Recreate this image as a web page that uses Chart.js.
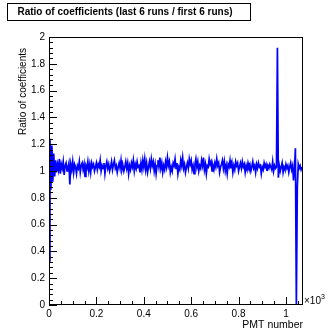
<!DOCTYPE html>
<html>
<head>
<meta charset="utf-8">
<script src="https://cdn.jsdelivr.net/npm/chart.js@4/dist/chart.umd.min.js"></script>
<style>
  html, body { margin: 0; padding: 0; background: #fff; }
  #wrap { width: 328px; height: 331px; position: relative; }
</style>
</head>
<body>
<div id="wrap"><canvas id="c" width="328" height="331"></canvas></div>
<script>
/* ── Data (bin width 4 PMTs) ───────────────────────────────── */
const BIN_WIDTH = 4;
const ratios = [
  0.33, 1.24, 0.86, 1.19, 0.92, 1.13, 0.96, 1.08, 0.99, 1.05,
  1.01, 1.09, 0.98, 1.05, 1.02, 1.07, 0.97, 1.04, 1.06, 1.00,
  1.03, 1.06, 0.90, 1.05, 1.01, 1.07, 0.99, 1.05, 1.03, 0.98,
  1.04, 1.02, 1.07, 0.99, 1.04, 1.06, 1.01, 1.05, 0.96, 1.04,
  1.02, 1.07, 1.00, 1.05, 0.99, 1.06, 1.03, 1.05, 1.00, 1.03,
  1.06, 1.01, 1.05, 1.03, 1.08, 1.00, 1.04, 1.02, 1.06, 0.98,
  1.04, 1.07, 1.02, 1.05, 1.00, 1.03, 1.07, 1.01, 1.05, 1.08,
  1.02, 1.04, 0.99, 1.03, 1.06, 1.02, 1.08, 1.01, 1.04, 1.00,
  1.03, 1.07, 1.02, 1.06, 0.98, 1.04, 1.01, 1.06, 1.03, 1.08,
  1.00, 1.05, 1.02, 1.07, 1.03, 1.04, 0.99, 1.06, 1.01, 1.08,
  1.03, 1.09, 1.01, 1.06, 0.99, 1.03, 1.07, 1.02, 1.09, 1.04,
  1.07, 1.00, 1.05, 0.98, 1.04, 1.08, 1.03, 1.10, 1.02, 1.06,
  0.99, 1.04, 1.01, 1.07, 1.03, 1.10, 1.04, 1.07, 0.99, 1.03,
  1.00, 1.06, 1.04, 1.09, 1.02, 1.06, 0.98, 1.03, 1.01, 1.08,
  1.04, 1.10, 1.02, 1.05, 0.99, 1.03, 1.06, 1.02, 1.09, 1.05,
  1.08, 1.01, 1.04, 0.98, 1.05, 1.09, 1.03, 1.07, 1.00, 1.04,
  1.02, 1.08, 1.04, 1.10, 1.01, 1.05, 0.98, 1.04, 1.03, 1.09,
  1.05, 1.07, 1.00, 1.04, 1.01, 1.06, 1.03, 1.09, 1.04, 1.06,
  0.99, 1.03, 1.05, 1.08, 1.02, 1.07, 1.00, 1.04, 0.98, 1.05,
  1.03, 1.08, 1.02, 1.06, 0.99, 1.04, 1.01, 1.07, 1.04, 1.06,
  1.00, 1.03, 1.06, 1.02, 1.07, 1.03, 1.05, 0.99, 1.04, 1.01,
  1.06, 1.03, 1.05, 1.00, 1.03, 1.07, 1.02, 1.04, 0.99, 1.05,
  1.02, 1.06, 1.03, 1.04, 0.98, 1.03, 1.01, 1.06, 1.03, 1.05,
  1.00, 1.04, 1.02, 1.05, 1.03, 1.01, 1.07, 1.00, 1.04, 1.02,
  1.03, 1.92, 0.95, 1.04, 1.00, 1.03, 1.06, 0.99, 1.03, 1.01,
  1.05, 1.02, 1.04, 0.99, 1.03, 1.06, 1.01, 1.04, 0.93, 1.02,
  1.17, 0.00, 0.88, 1.05, 1.02, 1.04, 1.01, 1.03
];

const xMin = 0, xMax = 1072;
const yMin = 0, yMax = 2;
const xTickValues = [0, 200, 400, 600, 800, 1000];
const xTickLabels = ['0', '0.2', '0.4', '0.6', '0.8', '1'];
const yTickValues = [0, 0.2, 0.4, 0.6, 0.8, 1, 1.2, 1.4, 1.6, 1.8, 2];
const yTickLabels = ['0', '0.2', '0.4', '0.6', '0.8', '1', '1.2', '1.4', '1.6', '1.8', '2'];
const xMinorStep = 50;
const yMinorStep = 0.04;

const TITLE = 'Ratio of coefficients (last 6 runs / first 6 runs)';
const X_TITLE = 'PMT number';
const Y_TITLE = 'Ratio of coefficients';

const FONT = '"Liberation Sans", Arial, Helvetica, sans-serif';

/* ── ROOT-style frame, inner ticks, titles ─────────────────── */
const rootFrame = {
  id: 'rootFrame',
  afterDraw(chart) {
    const { ctx, chartArea: a, scales: { x, y } } = chart;
    ctx.save();
    ctx.strokeStyle = '#000';
    ctx.lineWidth = 1;

    // frame
    ctx.strokeRect(Math.round(a.left) + 0.5, Math.round(a.top) + 0.5,
      Math.round(a.right - a.left) - 1, Math.round(a.bottom - a.top) - 1);

    // y ticks (inside)
    ctx.beginPath();
    for (let v = yMin; v <= yMax + 1e-9; v += yMinorStep) {
      const py = Math.round(y.getPixelForValue(v)) + 0.5;
      const major = yTickValues.some(t => Math.abs(t - v) < 1e-6);
      ctx.moveTo(a.left, py);
      ctx.lineTo(a.left + (major ? 8 : 4), py);
    }
    // x ticks (inside)
    for (let v = xMin; v <= xMax; v += xMinorStep) {
      const px = Math.round(x.getPixelForValue(v)) + 0.5;
      const major = xTickValues.includes(v);
      ctx.moveTo(px, a.bottom);
      ctx.lineTo(px, a.bottom - (major ? 8 : 4));
    }
    ctx.stroke();

    // title box
    ctx.fillStyle = '#fff';
    ctx.fillRect(7, 3, 243, 18);
    ctx.strokeRect(7.5, 3.5, 243, 17);
    ctx.fillStyle = '#000';
    ctx.font = 'bold 10px ' + FONT;
    ctx.textAlign = 'center';
    ctx.textBaseline = 'middle';
    ctx.fillText(TITLE, 125, 12.5);

    // x axis title (right aligned)
    ctx.font = '10.5px ' + FONT;
    ctx.textAlign = 'right';
    ctx.textBaseline = 'alphabetic';
    ctx.fillText(X_TITLE, a.right, 328);

    // x10^3
    ctx.textAlign = 'left';
    ctx.font = '10px ' + FONT;
    ctx.fillText('\u00d710', a.right + 1, a.bottom - 1);
    const w = ctx.measureText('\u00d710').width;
    ctx.font = '7px ' + FONT;
    ctx.fillText('3', a.right + 1 + w, a.bottom - 6);

    // y axis title (rotated, right aligned at top)
    ctx.save();
    ctx.translate(26, 48);
    ctx.rotate(-Math.PI / 2);
    ctx.font = '10px ' + FONT;
    ctx.textAlign = 'right';
    ctx.fillText(Y_TITLE, 0, 0);
    ctx.restore();

    ctx.restore();
  }
};

const points = ratios.map((r, i) => ({ x: i * BIN_WIDTH, y: r }));

new Chart(document.getElementById('c'), {
  type: 'line',
  data: {
    datasets: [{
      data: points,
      borderColor: '#0000ff',
      borderWidth: 1.7,
      pointRadius: 0,
      tension: 0,
      fill: false,
    }],
  },
  options: {
    responsive: false,
    animation: false,
    devicePixelRatio: 1,
    layout: { padding: { top: 37, right: 25, bottom: 0, left: 0 } },
    plugins: { legend: { display: false }, tooltip: { enabled: false } },
    scales: {
      x: {
        type: 'linear',
        min: xMin,
        max: xMax,
        afterBuildTicks: s => { s.ticks = xTickValues.map(v => ({ value: v })); },
        afterFit: s => { s.height = 26; },
        grid: { display: false, drawTicks: false },
        border: { display: false },
        ticks: {
          autoSkip: false,
          maxRotation: 0,
          padding: 3,
          color: '#000',
          font: { family: FONT, size: 10 },
          callback: (v, i) => xTickLabels[i],
        },
      },
      y: {
        min: yMin,
        max: yMax,
        afterBuildTicks: s => { s.ticks = yTickValues.map(v => ({ value: v })); },
        afterFit: s => { s.width = 49; },
        grid: { display: false, drawTicks: false },
        border: { display: false },
        ticks: {
          autoSkip: false,
          padding: 4,
          color: '#000',
          font: { family: FONT, size: 10 },
          callback: (v, i) => yTickLabels[i],
        },
      },
    },
  },
  plugins: [rootFrame],
});
</script>
</body>
</html>
